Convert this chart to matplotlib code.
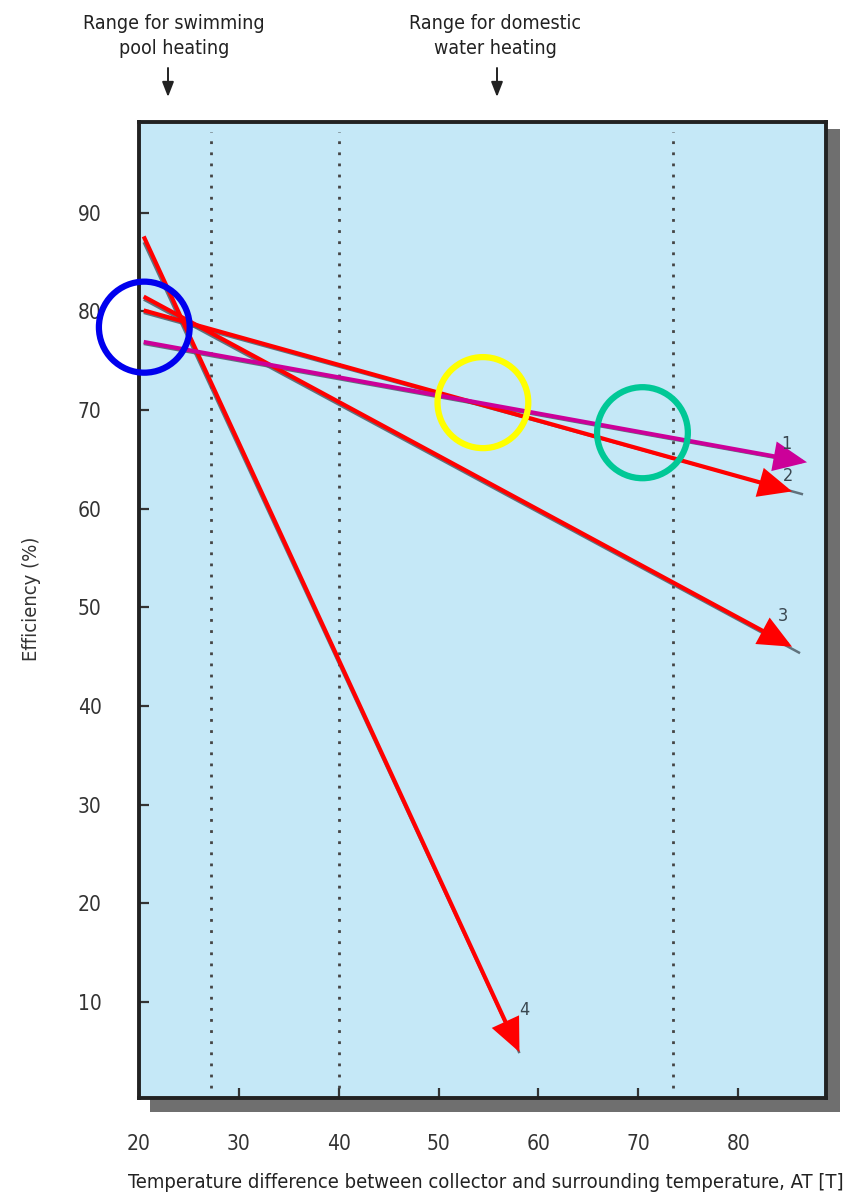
import matplotlib
matplotlib.use('Agg')
import matplotlib.pyplot as plt
from matplotlib.patches import Ellipse, Rectangle, FancyArrowPatch

# ---------------- data ----------------
x_ticks = [20, 30, 40, 50, 60, 70, 80]
y_ticks = [10, 20, 30, 40, 50, 60, 70, 80, 90]
range_lines_x = [27.2, 40.0, 73.45]

line_ids = ['1', '2', '3', '4']
start_x = [20.47, 20.47, 20.47, 20.47]
start_y = [76.9, 80.1, 81.5, 87.6]
tip_x = [86.9, 85.4, 85.4, 58.1]
tip_y = [64.7, 61.75, 46.0, 4.9]
line_colors = ['#cc0099', '#ff0000', '#ff0000', '#ff0000']

gray_x0 = [20.47, 20.47, 20.47, 20.47]
gray_y0 = [76.7, 79.85, 81.2, 87.0]
gray_x1 = [84.8, 86.5, 86.2, 58.1]
gray_y1 = [64.95, 61.45, 45.35, 4.8]

label_x = [84.8, 85.0, 84.5, 58.6]
label_y = [66.6, 63.3, 49.1, 9.2]

circle_x = [20.53, 54.44, 70.42]
circle_y = [78.4, 70.75, 67.7]
circle_colors = ['#0000ee', '#ffff00', '#00c896']

top_texts = ['Range for swimming\npool heating', 'Range for domestic\nwater heating']

# ---------------- figure ----------------
W, H = 857, 1194
fig = plt.figure(figsize=(W / 100, H / 100), dpi=100)
FONT = dict(family='DejaVu Sans', stretch='condensed')

ax_l, ax_r, ax_t, ax_b = 139, 826, 122, 1098
ax = fig.add_axes([ax_l / W, 1 - ax_b / H, (ax_r - ax_l) / W, (ax_b - ax_t) / H])
ax.set_zorder(2)

# drop shadow behind the frame
shadow = Rectangle((150 / W, 1 - 1112 / H), (840 - 150) / W, (1112 - 129) / H,
                   transform=fig.transFigure, facecolor='#6f6f6f', edgecolor='none', zorder=0)
fig.patches.append(shadow)

ax.set_facecolor('#c5e8f7')
ax.set_xlim(20.2, 88.8)
ax.set_ylim(0.25, 99.2)

for s in ax.spines.values():
    s.set_linewidth(2.8)
    s.set_color('#222222')

ax.set_xticks(x_ticks)
ax.set_yticks(y_ticks)
ax.tick_params(direction='in', length=7, width=1.6, color='#333333',
               labelsize=15, labelcolor='#333333')
ax.tick_params(axis='y', pad=27)
ax.tick_params(axis='x', pad=26)
for lab in ax.get_xticklabels() + ax.get_yticklabels():
    lab.set_fontstretch('condensed')

# dotted range lines
for xv in range_lines_x:
    ax.axvline(xv, ymin=0.01, ymax=0.99, color='#444444', lw=2.0,
               linestyle=(0, (1, 3)), zorder=2)

# grey original curves (shadows)
for i in range(4):
    ax.plot([gray_x0[i], gray_x1[i]], [gray_y0[i], gray_y1[i]],
            color='#4f5e68', lw=1.8, alpha=0.85, zorder=3,
            solid_capstyle='butt')

# coloured arrows
order = [1, 2, 3, 0]
for i in order:
    arr = FancyArrowPatch((start_x[i], start_y[i]), (tip_x[i], tip_y[i]),
                          arrowstyle='-|>,head_length=19,head_width=8.5',
                          mutation_scale=1, color=line_colors[i], lw=3.0,
                          shrinkA=0, shrinkB=0, zorder=4 if i else 5,
                          joinstyle='miter', capstyle='butt')
    ax.add_patch(arr)

for i in range(4):
    ax.text(label_x[i], label_y[i], line_ids[i], fontsize=13, color='#3a4750',
            ha='center', va='center', zorder=6, **FONT)

# circles
rx = 45.5 / 10.01
ry = 45.5 / 9.86
for cx, cy, cc in zip(circle_x, circle_y, circle_colors):
    e = Ellipse((cx, cy), 2 * rx, 2 * ry, fill=False, edgecolor=cc, lw=4.5,
                clip_on=False, zorder=7)
    ax.add_patch(e)

# axis labels
fig.text(32 / W, 1 - 599 / H, 'Efficiency (%)', rotation=90, ha='center', va='center',
         fontsize=14.5, color='#333333', **FONT)
fig.text(486 / W, 1 - 1183 / H,
         'Temperature difference between collector and surrounding temperature, AT [T]',
         ha='center', va='center', fontsize=14.5, color='#222222', **FONT)

# top annotations
text_cx = [174, 495]
arrow_x = [168, 497]
for tx, ax_x, txt in zip(text_cx, arrow_x, top_texts):
    fig.text(tx / W, 1 - 36 / H, txt, ha='center', va='center', fontsize=14,
             color='#222222', linespacing=1.35, **FONT)
    a = FancyArrowPatch((ax_x / W, 1 - 68 / H), (ax_x / W, 1 - 97 / H),
                        transform=fig.transFigure,
                        arrowstyle='-|>,head_length=9,head_width=3.5',
                        mutation_scale=1, color='#222222', lw=1.4,
                        shrinkA=0, shrinkB=0)
    fig.patches.append(a)

fig.savefig('out.png', dpi=100)
